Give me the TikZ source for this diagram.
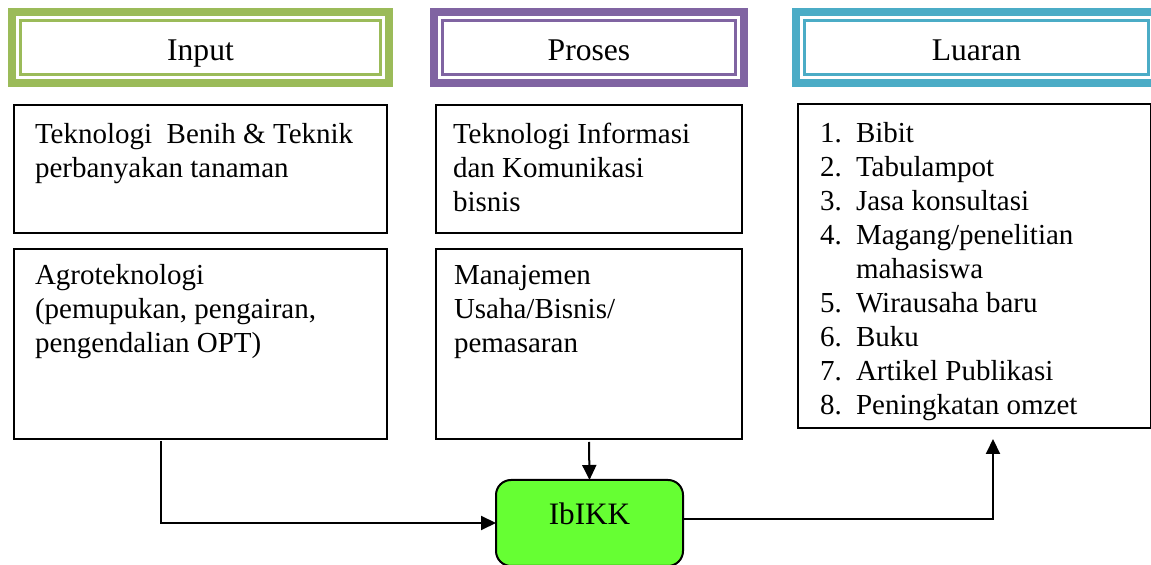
\documentclass[tikz,border=0pt]{standalone}
\usepackage{fontspec}
\setmainfont{Liberation Serif}
\usetikzlibrary{positioning,arrows.meta}

\definecolor{inGreen}{HTML}{9BBB59}
\definecolor{prPurple}{HTML}{8064A2}
\definecolor{outBlue}{HTML}{4BACC6}
\definecolor{ibGreen}{HTML}{66FF33}
\newcommand{\litem}[1]{\makebox[18pt][l]{#1}}

\begin{document}
\begin{tikzpicture}[
  x=0.5pt,y=-0.5pt,
  every node/.style={inner sep=0pt,outer sep=0pt},
  every path/.style={line width=1pt,>={Triangle[length=7.5pt,width=7pt]}},
  head/.style={draw=#1,line width=4pt,minimum height=35.5pt,
    font=\fontsize{15.8}{19}\selectfont,text height=13.5pt,text depth=0pt},
  box/.style={draw,anchor=north west,minimum width=#1},
  txt/.style={anchor=north west,align=left,font=\fontsize{14.5}{17}\selectfont},
  ]
  \useasboundingbox (0,0) rectangle (1151,565);
  % headers
  \node[head=inGreen,minimum width=188.5pt] (hIn) at (200.5,47.5) {Input};
  \node[head=prPurple,minimum width=155pt] (hPr) at (589,47.5) {Proses};
  \node[head=outBlue,minimum width=180.5pt] (hOut) at (976.5,47.5) {Luaran};
  \foreach \h/\c in {hIn/inGreen,hPr/prPurple,hOut/outBlue}
    \draw[\c,line width=1.5pt] ([shift={(4.25pt,-4.25pt)}]\h.north west)
      rectangle ([shift={(-4.25pt,4.25pt)}]\h.south east);

  % boxes
  \node[box=186.5pt,minimum height=64pt] (benih) at (14,105) {};
  \node[box=186.5pt,minimum height=95pt] (agro) at (14,249) {};
  \node[box=153pt,minimum height=64pt] (tik) at (436,105) {};
  \node[box=153pt,minimum height=95pt] (manaj) at (436,249) {};
  \node[box=176.5pt,minimum height=162pt] (luaran) at (798,104) {};

  \node[txt] (tBenih) at ([shift={(10.5pt,-9.25pt)}]benih.north west)
    {Teknologi\ \ Benih \& Teknik\\perbanyakan tanaman};
  \node[txt] (tAgro) at ([shift={(10.5pt,-7.75pt)}]agro.north west)
    {Agroteknologi\\(pemupukan, pengairan,\\pengendalian OPT)};
  \node[txt] (tTik) at ([shift={(8.5pt,-9.1pt)}]tik.north west)
    {Teknologi Informasi\\dan Komunikasi\\bisnis};
  \node[txt] (tManaj) at ([shift={(9pt,-8.1pt)}]manaj.north west)
    {Manajemen\\Usaha/Bisnis/\\pemasaran};
  \node[txt] (tLuaran) at ([shift={(11pt,-9pt)}]luaran.north west)
    {\litem{1.}Bibit\\\litem{2.}Tabulampot\\\litem{3.}Jasa konsultasi\\
     \litem{4.}Magang/penelitian\\\litem{}mahasiswa\\\litem{5.}Wirausaha baru\\
     \litem{6.}Buku\\\litem{7.}Artikel Publikasi\\\litem{8.}Peningkatan omzet};

  \node[draw,fill=ibGreen,rounded corners=7.5pt,minimum width=93.5pt,
    minimum height=43pt,font=\fontsize{15.6}{19}\selectfont,
    text height=11pt,text depth=9pt] (ibikk) at (589.5,523) {IbIKK};

  \draw[->] ([shift={(73.5pt,-1pt)}]agro.south west) |- (ibikk.west);
  \draw[->] ([yshift=-1.5pt]manaj.south) -- (ibikk.north);
  \draw[->] ([yshift=2pt]ibikk.east) -| ([shift={(97.5pt,-5.5pt)}]luaran.south west);
\end{tikzpicture}
\end{document}
